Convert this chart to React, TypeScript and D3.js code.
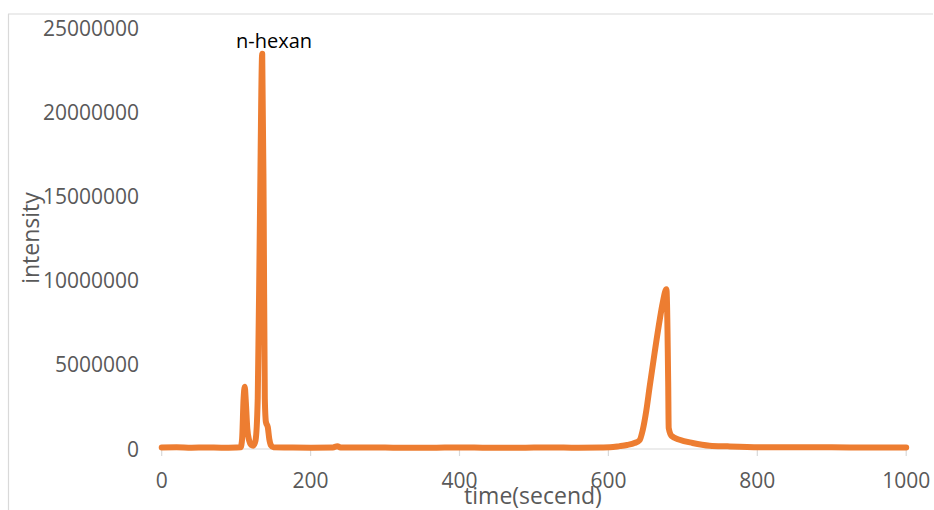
import React from "react";
import * as d3 from "d3";

const times: number[] = [
  0, 20, 40, 60, 80, 100, 106, 108, 110, 111.5, 113, 115, 117.5, 120, 123, 126, 129, 132, 135, 137, 138.5, 140, 142.5, 144.5,
  147, 150, 170, 200, 230, 236, 240, 280, 320, 360, 400, 440, 480, 520, 560, 590, 602, 615, 625, 635, 642, 646, 651, 655.4,
  662, 669, 673, 677.9, 680.3, 681, 685, 695.6, 713, 736, 760, 803, 850, 900, 950, 1000,
];
const intensity: number[] = [
  90000, 100000, 80000, 90000, 80000, 90000, 100000, 600000, 3000000, 3700000, 2800000, 1200000, 500000, 250000, 200000, 500000,
  3000000, 14000000, 23500000, 14000000, 3000000, 1600000, 1300000, 600000, 200000, 100000, 90000, 80000, 90000, 170000, 90000,
  90000, 80000, 80000, 90000, 80000, 80000, 90000, 80000, 90000, 100000, 170000, 240000, 350000, 530000, 1100000, 2300000,
  3700000, 5700000, 7700000, 8700000, 9500000, 4000000, 1250000, 770000, 550000, 360000, 200000, 160000, 110000, 100000,
  100000, 90000, 90000,
];
const xTicks: number[] = [0, 200, 400, 600, 800, 1000];
const yTicks: number[] = [0, 5000000, 10000000, 15000000, 20000000, 25000000];

const W = 934;
const H = 510;
const FONT = "'Open Sans', 'Noto Sans', sans-serif";

export default function App() {
  const x = d3.scaleLinear().domain([0, 1000]).range([161.7, 906.2]);
  const y = d3.scaleLinear().domain([0, 25000000]).range([449, 28.5]);
  const data = times.map((t, i) => [t, intensity[i]] as [number, number]);
  const line = d3
    .line<[number, number]>()
    .x((d) => x(d[0]))
    .y((d) => y(d[1]))
    .curve(d3.curveMonotoneX);
  const fmt = d3.format("d");
  return (
    <svg
      width={W}
      height={H}
      style={{ position: "absolute", left: 0, top: 0, background: "#fff" }}
    >
      <rect x={0} y={0} width={W} height={H} fill="#fff" />
      {/* chart frame */}
      <line x1={8} x2={933} y1={14} y2={14} stroke="#d9d9d9" strokeWidth={1.2} />
      <line x1={8.5} x2={8.5} y1={14} y2={H} stroke="#d9d9d9" strokeWidth={1.2} />
      {/* x axis */}
      <line x1={x(0)} x2={x(1000)} y1={y(0)} y2={y(0)} stroke="#d9d9d9" strokeWidth={1.2} />
      {xTicks.map((t) => (
        <g key={t}>
          <line x1={x(t)} x2={x(t)} y1={y(0)} y2={y(0) + 7} stroke="#d9d9d9" strokeWidth={1.2} />
          <text
            x={x(t)}
            y={488}
            textAnchor="middle"
            fontFamily={FONT}
            fontSize={21}
            fill="#595959"
          >
            {fmt(t)}
          </text>
        </g>
      ))}
      {yTicks.map((t) => (
        <text
          key={t}
          x={139}
          y={y(t) + 7.5}
          textAnchor="end"
          fontFamily={FONT}
          fontSize={21}
          fill="#595959"
        >
          {fmt(t)}
        </text>
      ))}
      <path
        d={line(data) || ""}
        fill="none"
        stroke="#ED7D31"
        strokeWidth={6}
        strokeLinejoin="round"
        strokeLinecap="round"
      />
      <text x={274} y={48} textAnchor="middle" fontFamily={FONT} fontSize={20} fill="#000">
        n-hexan
      </text>
      <text
        transform="translate(39,238) rotate(-90)"
        textAnchor="middle"
        fontFamily={FONT}
        fontSize={23}
        fill="#595959"
      >
        intensity
      </text>
      <text x={533} y={504} textAnchor="middle" fontFamily={FONT} fontSize={23} fill="#595959">
        time(secend)
      </text>
    </svg>
  );
}
